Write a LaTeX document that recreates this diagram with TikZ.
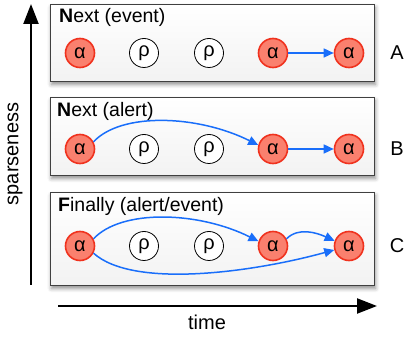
\documentclass[tikz,border=0pt]{standalone}
\usepackage{fontspec}
\setmainfont{Liberation Sans}
\usetikzlibrary{shadows.blur, arrows.meta}

\definecolor{alphafill}{RGB}{250,128,110}
\definecolor{alphaline}{RGB}{240,50,30}
\definecolor{flowblue}{RGB}{25,110,250}

\tikzset{
  panel/.style={draw=black!75, line width=0.9pt, top color=white, bottom color=black!5,
    minimum width=324pt, minimum height=77pt, anchor=north west, inner sep=0pt,
    blur shadow={shadow xshift=1pt, shadow yshift=-3pt, shadow blur radius=4pt, shadow opacity=45}},
  state/.style={circle, minimum size=29pt, inner sep=0pt, font=\fontsize{20}{22}\selectfont},
  alpha/.style={state, draw=alphaline, fill=alphafill, line width=1.6pt},
  rho/.style={state, draw=black, fill=white, line width=0.8pt},
  title/.style={anchor=base west, inner sep=0pt, font=\fontsize{19.5}{22}\selectfont},
  tag/.style={inner sep=0pt, font=\fontsize{20}{22}\selectfont},
  flow/.style={draw=flowblue, line width=1.5pt, -{Triangle[length=10pt,width=9pt]}},
  axis/.style={draw=black, line width=2.2pt, -{Triangle[length=20pt,width=15pt]}}
}

\begin{document}
\begin{tikzpicture}[x=1pt, y=-1pt]
\useasboundingbox (0,0) rectangle (405,339);

% axes
\coordinate (ybot) at (31,285);
\coordinate (ytop) at (31,4);
\coordinate (xl) at (58,306);
\coordinate (xr) at (377,306);
\draw[axis] (ybot) -- (ytop);
\draw[axis] (xl) -- (xr);
\node[tag, rotate=90] (spar) at (15,154) {sparseness};
\node[tag] (time) at (207,322) {time};

% panels
\node[panel] (pa) at (50,4) {};
\node[panel, minimum height=78pt] (pb) at (50,97) {};
\node[panel, minimum height=93pt] (pc) at (50,192) {};

\node[title] (ta) at (59,23) {\textbf{N}ext (event)};
\node[title] (tb) at (57,117) {\textbf{N}ext (alert)};
\node[title] (tc) at (58,212) {\textbf{F}inally (alert/event)};

\node[tag] (la) at (397,53) {A};
\node[tag] (lb) at (397,149) {B};
\node[tag] (lc) at (397,246) {C};

% row A
\node[alpha] (a1) at (80,53) {α};
\node[rho]   (a2) at (144,53) {ρ};
\node[rho]   (a3) at (209,53) {ρ};
\node[alpha] (a4) at (273,53) {α};
\node[alpha] (a5) at (349,53) {α};
\draw[flow] (a4) -- (a5);

% row B
\node[alpha] (b1) at (80,149) {α};
\node[rho]   (b2) at (144,149) {ρ};
\node[rho]   (b3) at (209,149) {ρ};
\node[alpha] (b4) at (273,149) {α};
\node[alpha] (b5) at (349,149) {α};
\draw[flow] (b4) -- (b5);
\draw[flow] (b1.28) .. controls +(28,-30) and +(-60,-30) .. (b4.165);

% row C
\node[alpha] (c1) at (80,246) {α};
\node[rho]   (c2) at (144,246) {ρ};
\node[rho]   (c3) at (209,246) {ρ};
\node[alpha] (c4) at (273,246) {α};
\node[alpha] (c5) at (349,246) {α};
\draw[flow] (c1.28) .. controls +(28,-30) and +(-60,-30) .. (c4.162);
\draw[flow] (c1.-28) .. controls +(40,36) and +(-80,22) .. (c5.195);
\draw[flow] (c4.28) .. controls +(12,-12) and +(-18,-8) .. (c5.160);
\end{tikzpicture}
\end{document}
